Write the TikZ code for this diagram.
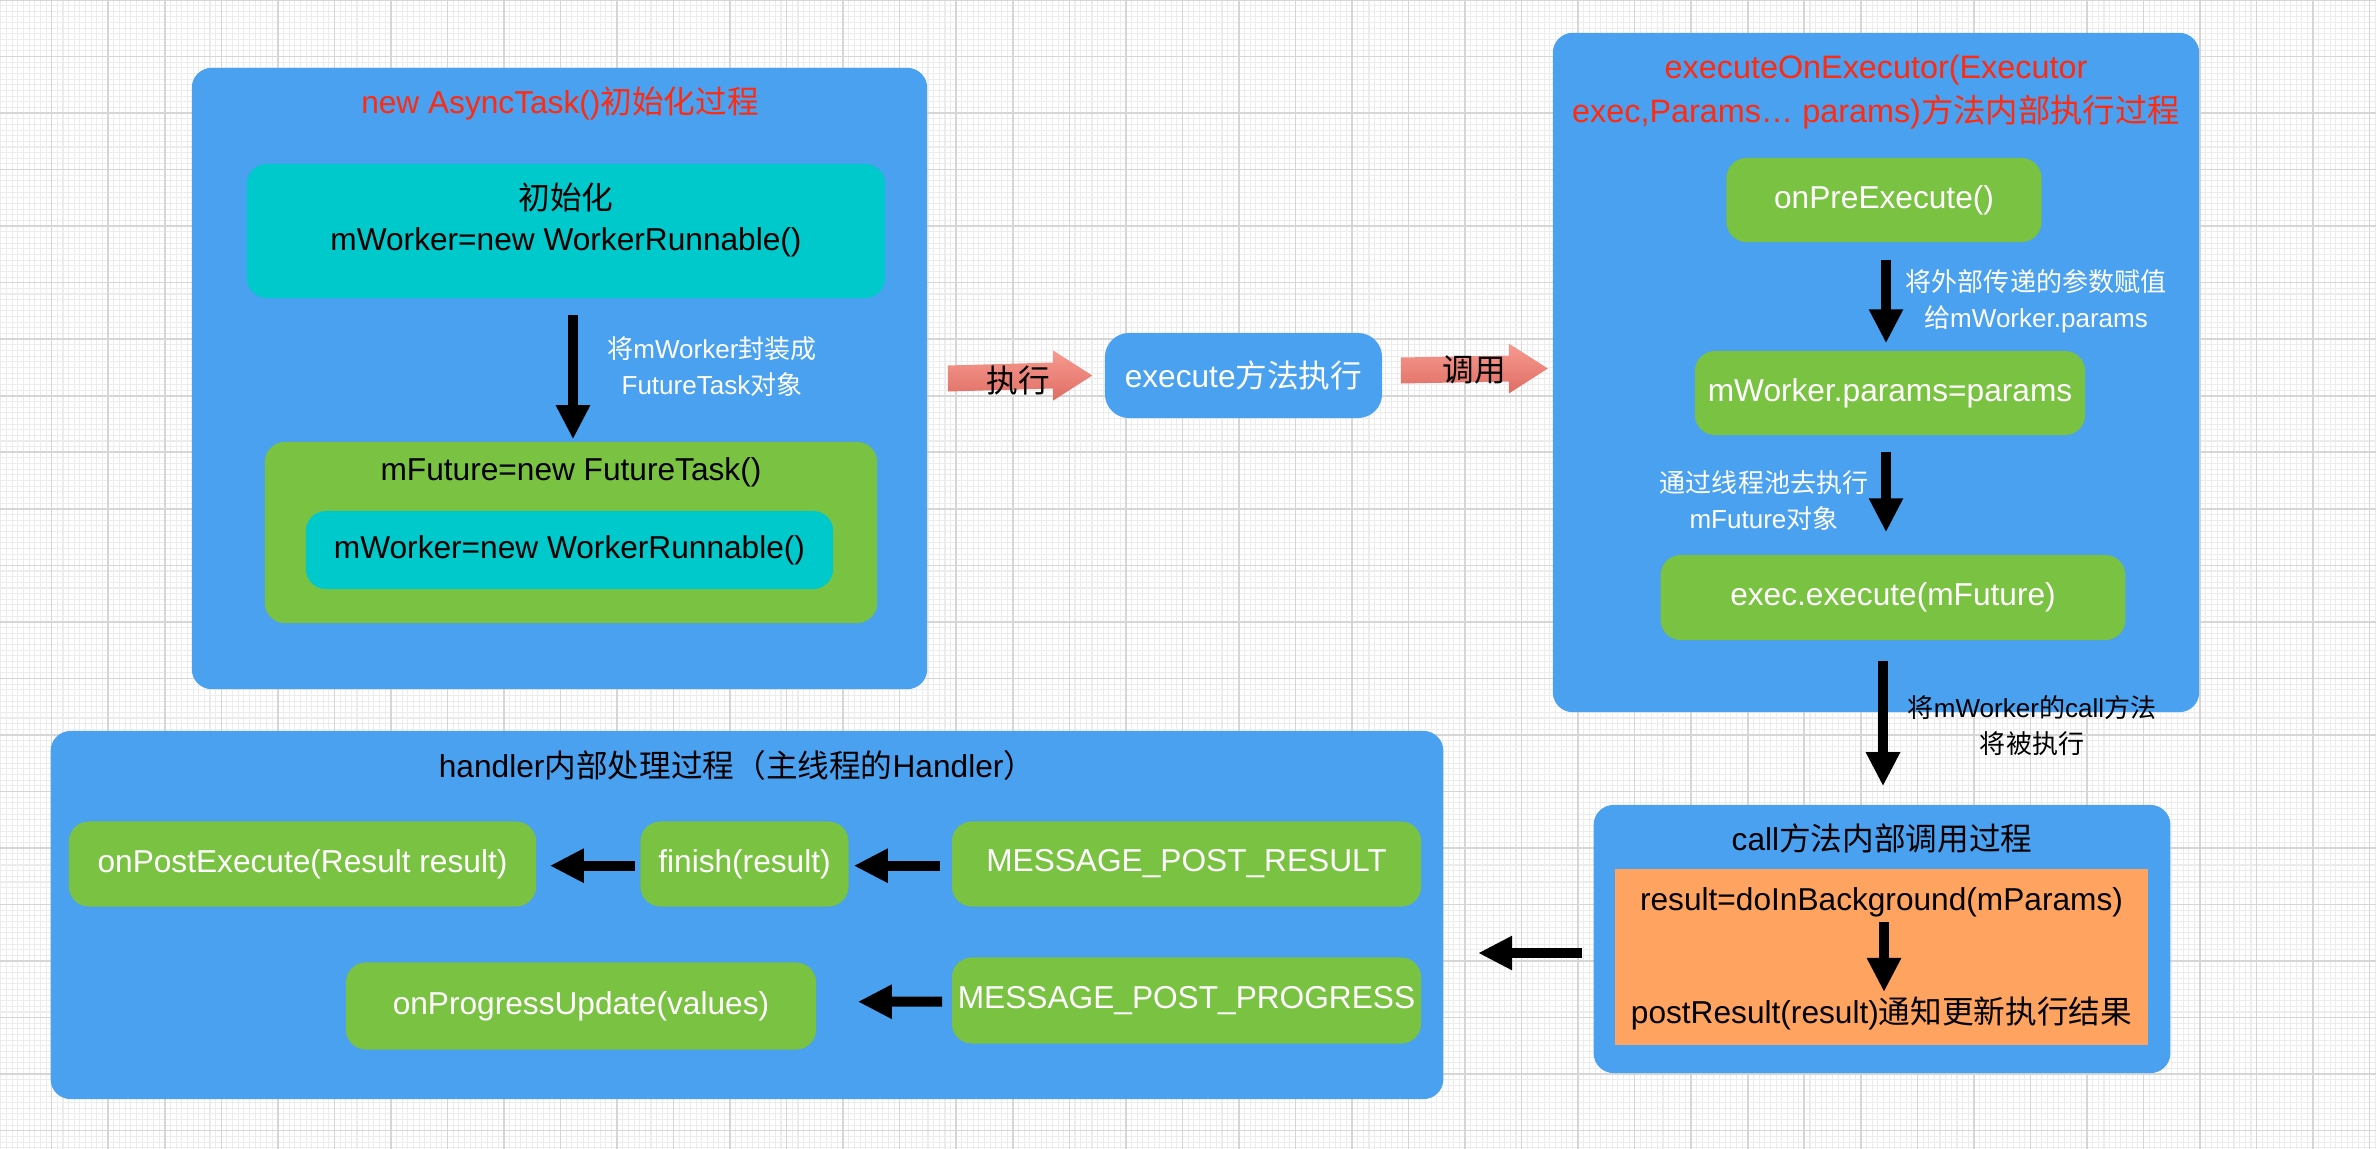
\documentclass[tikz,border=0pt]{standalone}
\usepackage{fontspec}
\setmainfont{Liberation Sans}
\newfontfamily\zhfont{Noto Sans CJK SC}
\newcommand\zh[1]{{\zhfont #1}}
\usetikzlibrary{arrows.meta,calc}
\definecolor{boxblue}{HTML}{49A1F0}
\definecolor{boxcyan}{HTML}{00C9CC}
\definecolor{boxgreen}{HTML}{7AC242}
\definecolor{boxorange}{HTML}{FFA360}
\definecolor{titlered}{HTML}{FF2A10}
\definecolor{arrowtop}{HTML}{F89A90}
\definecolor{arrowbot}{HTML}{DE6E64}
\definecolor{gridlight}{HTML}{ECECEC}
\definecolor{griddark}{HTML}{D6D6D6}
% block arrow from #1 to its tip #2
\newcommand\pinkarrow[2]{%
  \shade[top color=arrowtop, bottom color=arrowbot]
    ($(#1)+(0,-13)$) -- ($(#2)+(-39,-13)$) -- ($(#2)+(-39,-25)$) -- (#2)
    -- ($(#2)+(-39,25)$) -- ($(#2)+(-39,13)$) -- ($(#1)+(0,13)$) -- cycle;}

\begin{document}
\begin{tikzpicture}[
  x=0.01cm, y=-0.01cm,
  font=\fontsize{9}{11.7}\selectfont,
  container/.style={fill=boxblue, rounded corners=0.2cm, inner sep=0pt},
  card/.style={rounded corners=0.2cm, inner sep=0pt, align=center},
  cyancard/.style={card, fill=boxcyan},
  greencard/.style={card, fill=boxgreen, text=white},
  title/.style={inner sep=0pt, align=center},
  note/.style={inner sep=0pt, align=center, font=\fontsize{7.4}{10.2}\selectfont},
  bigarrow/.style={-{Triangle[width=0.32cm,length=0.34cm]}, line width=0.1cm},
  gridminor/.style={draw=gridlight, line width=0.3pt},
  gridmajor/.style={draw=griddark, line width=0.45pt}]
\useasboundingbox (0,0) rectangle (2376,1148);
\fill[white] (0,0) rectangle (2376,1148);
\begin{scope}
\clip (0,0) rectangle (2376,1148);
\draw[gridminor, step=0.0565cm, shift={(51.7,0)}] (-60,1160) grid (2340,-10);
\draw[gridmajor, step=0.565cm, shift={(51.7,0)}] (-60,1160) grid (2340,-10);
\end{scope}

% new AsyncTask()
\node[container, minimum width=7.35cm, minimum height=6.21cm] (boxA) at (559.5,378.5) {};
\node[title, text=titlered] (ttlA) at (560,103) {new AsyncTask()\zh{初始化过程}};
\node[cyancard, minimum width=6.38cm, minimum height=1.34cm] (init) at (566,231) {};
\node[title] (inittxt) at (566,220) {\zh{初始化}\\mWorker=new WorkerRunnable()};
\node[note, text=white] (wrap) at (712,367) {\zh{将}mWorker\zh{封装成}\\FutureTask\zh{对象}};
\node[card, fill=boxgreen, minimum width=6.12cm, minimum height=1.81cm] (future) at (571,532.5) {};
\node[title] (futuretxt) at (571,472) {mFuture=new FutureTask()};
\node[cyancard, minimum width=5.27cm, minimum height=0.78cm] (worker) at (569.5,550) {mWorker=new WorkerRunnable()};
\draw[bigarrow] ($(init.south)+(7,16)$) -- ($(future.north)+(2,-2)$);

% execute
\node[card, fill=boxblue, text=white, rounded corners=0.24cm, minimum width=2.77cm, minimum height=0.85cm] (exe) at (1243.5,375.5)
  {execute\zh{方法执行}};
\coordinate (run0) at ($(boxA.east)+(20,0)$);
\coordinate (run1) at ($(exe.west)+(-12,0)$);
\coordinate (call0) at ($(exe.east)+(18,-5)$);
\coordinate (call1) at ($(exe.east)+(165,-7)$);
\pinkarrow{run0}{run1}
\pinkarrow{call0}{call1}
\node[title] (runlbl) at (1018,380) {\zh{执行}};
\node[title] (calllbl) at (1474,370) {\zh{调用}};

% executeOnExecutor
\node[container, minimum width=6.46cm, minimum height=6.79cm] (boxB) at (1876,372.5) {};
\node[title, text=titlered, font=\fontsize{9.2}{12.7}\selectfont] (ttlB) at (1876,92)
  {executeOnExecutor(Executor\\exec,Params… params)\zh{方法内部执行过程}};
\node[greencard, minimum width=3.15cm, minimum height=0.84cm] (pre) at (1884,200) {onPreExecute()};
\node[greencard, minimum width=3.90cm, minimum height=0.84cm] (param) at (1890,393) {mWorker.params=params};
\node[greencard, minimum width=4.645cm, minimum height=0.85cm] (exec) at (1893,597.5) {exec.execute(mFuture)};
\node[note, text=white] (assign) at (2036,301) {\zh{将外部传递的参数赋值}\\\zh{给}mWorker.params};
\node[note, text=white] (pool) at (1764,500.5) {\zh{通过线程池去执行}\\mFuture\zh{对象}};
\draw[bigarrow] ($(pre.south)+(2,17)$) -- ($(param.north)+(-4,-7)$);
\draw[bigarrow] ($(param.south)+(-4,16)$) -- ($(exec.north)+(-7,-22)$);

% call
\node[container, minimum width=5.765cm, minimum height=2.68cm] (callbox) at (1882,939) {};
\node[title] (ttlC) at (1882,838) {call\zh{方法内部调用过程}};
\node[fill=boxorange, minimum width=5.33cm, minimum height=1.76cm, inner sep=0pt] (bg) at (1881.5,957) {};
\node[title] (doinbg) at (1881.5,902) {result=doInBackground(mParams)};
\node[title] (post) at (1881.5,1013) {postResult(result)\zh{通知更新执行结果}};
\draw[bigarrow] ($(bg.center)+(2.5,-35)$) -- ($(bg.center)+(2.5,35)$);
\draw[bigarrow] ($(exec.south)+(-10,20)$) -- ($(callbox.north)+(1,-18)$);
\node[note] (callnote) at (2032,725.5) {\zh{将}mWorker\zh{的}call\zh{方法}\\\zh{将被执行}};

% handler
\node[container, minimum width=13.92cm, minimum height=3.68cm] (handler) at (747,915) {};
\node[title] (ttlD) at (737,765) {handler\zh{内部处理过程（主线程的}Handler\zh{）}};
\node[greencard, minimum width=4.67cm, minimum height=0.85cm] (onpost) at (302.5,864) {onPostExecute(Result result)};
\node[greencard, minimum width=2.08cm, minimum height=0.85cm] (finish) at (744.5,864) {finish(result)};
\node[greencard, minimum width=4.69cm, minimum height=0.85cm] (msgres) at (1186.5,864) {MESSAGE\_POST\_RESULT};
\node[greencard, minimum width=4.70cm, minimum height=0.87cm] (onprog) at (581,1006) {onProgressUpdate(values)};
\node[greencard, minimum width=4.69cm, minimum height=0.86cm] (msgprog) at (1186.5,1000.5) {MESSAGE\_POST\_PROGRESS};
\draw[bigarrow] ($(finish.west)+(-4.5,1.7)$) -- ($(onpost.east)+(13,1.7)$);
\draw[bigarrow] ($(msgres.west)+(-11,1.7)$) -- ($(finish.east)+(4.5,1.7)$);
\draw[bigarrow] ($(msgprog.west)+(-9,1.2)$) -- ($(onprog.east)+(41,-4.3)$);
\draw[bigarrow] ($(callbox.west)+(-11,14)$) -- ($(handler.east)+(34,38)$);
\end{tikzpicture}
\end{document}
